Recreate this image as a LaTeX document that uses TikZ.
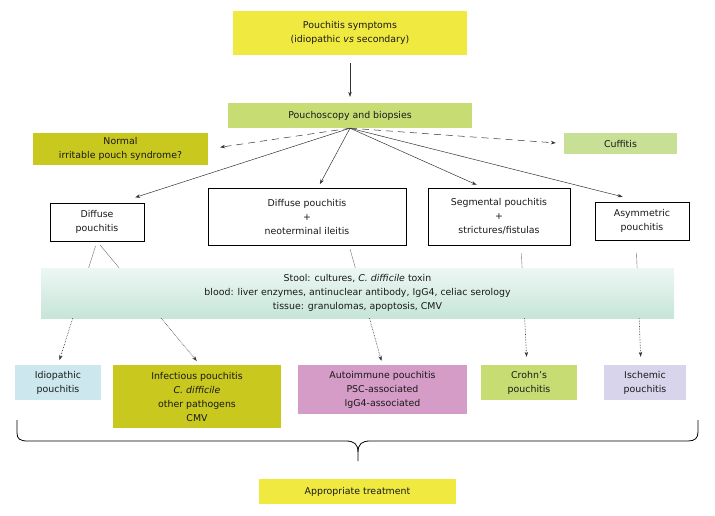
\documentclass[tikz,border=0pt]{standalone}
\usepackage{fontspec}
\setmainfont{DejaVu Sans}
\usetikzlibrary{arrows,arrows.meta}
\usetikzlibrary{calc}
\definecolor{pfeil}{RGB}{50,50,50}
\definecolor{symptomyellow}{RGB}{240,234,64}
\definecolor{scopygreen}{RGB}{200,220,116}
\definecolor{olive}{RGB}{200,200,30}
\definecolor{cuffgreen}{RGB}{200,224,150}
\definecolor{idioblue}{RGB}{204,232,238}
\definecolor{autopink}{RGB}{214,156,200}
\definecolor{ischlilac}{RGB}{216,212,236}
\definecolor{bandtop}{RGB}{237,247,244}
\definecolor{bandbottom}{RGB}{198,229,216}
\colorlet{pfeil-lighter}{pfeil!70}

\begin{document}
\begin{tikzpicture}[x=1pt, y=-1pt,
    box/.style={inner sep=0pt, align=center, font=\fontsize{9.4}{14}\selectfont, text=black!90},
    framed/.style={box, draw=black, line width=0.7pt, fill=white},
    fan/.style={pfeil, line width=0.5pt, -{Stealth[length=5pt, width=3.5pt]}},
    link/.style={pfeil-lighter, line width=0.4pt},
    dotlink/.style={pfeil, line width=0.6pt, densely dotted, -{Stealth[length=5pt, width=3.5pt]}}]

    \useasboundingbox (0,0) rectangle (715,515);

    % first level
    \node[box, fill=symptomyellow, minimum width=234pt, minimum height=44pt] (symptoms) at (350,33) {Pouchitis symptoms\\(idiopathic \textit{vs} secondary)};
    \node[box, fill=scopygreen, minimum width=244pt, minimum height=25pt] (scopy) at (350,115.5) {Pouchoscopy and biopsies};
    \node[box, fill=olive, minimum width=175pt, minimum height=32pt] (normal) at (120.5,149) {Normal\\irritable pouch syndrome?};
    \node[box, fill=cuffgreen, minimum width=113pt, minimum height=21pt] (cuff) at (620.5,143.5) {Cuffitis};

    % endoscopic findings
    \node[framed, minimum width=94pt, minimum height=38pt] (diffuse) at (97,222) {Diffuse\\pouchitis};
    \node[framed, minimum width=198pt, minimum height=57pt] (neo) at (307,216.5) {Diffuse pouchitis\\+\\neoterminal ileitis};
    \node[framed, minimum width=142pt, minimum height=57pt] (segm) at (499,216.5) {Segmental pouchitis\\+\\strictures/fistulas};
    \node[framed, minimum width=94pt, minimum height=38pt] (asym) at (642,221) {Asymmetric\\pouchitis};

    \node[box, top color=bandtop, bottom color=bandbottom, minimum width=633pt, minimum height=50pt] (tests) at (357.5,293) {Stool: cultures, \textit{C. difficile} toxin\\blood: liver enzymes, antinuclear antibody, IgG4, celiac serology\\tissue: granulomas, apoptosis, CMV};

    % diagnoses
    \node[box, fill=idioblue, minimum width=86pt, minimum height=35pt] (idio) at (58,382.5) {Idiopathic\\pouchitis};
    \node[box, fill=olive, minimum width=168pt, minimum height=63pt] (infect) at (197,396.5) {Infectious pouchitis\\\textit{C. difficile}\\other pathogens\\CMV};
    \node[box, fill=autopink, minimum width=169pt, minimum height=49pt] (auto) at (382.5,389.5) {Autoimmune pouchitis\\PSC-associated\\IgG4-associated};
    \node[box, fill=scopygreen, minimum width=96pt, minimum height=35pt] (crohn) at (529,382.5) {Crohn’s\\pouchitis};
    \node[box, fill=ischlilac, minimum width=82pt, minimum height=35pt] (isch) at (645,382.5) {Ischemic\\pouchitis};

    \node[box, fill=symptomyellow, minimum width=197pt, minimum height=25pt] (treat) at (357.5,491.5) {Appropriate treatment};

    \draw[fan, shorten <=8pt, shorten >=6pt] (symptoms) -- (scopy);

    \draw[fan, shorten >=17pt] (scopy.south) -- ([xshift=22pt]diffuse.north);
    \draw[fan, shorten >=4pt] (scopy.south) -- ([xshift=11pt]neo.north);
    \draw[fan, shorten >=7pt] (scopy.south) -- ([xshift=-16pt]segm.north);
    \draw[fan, shorten >=20pt] (scopy.south) -- (asym.north);
    \draw[fan, dash pattern=on 7pt off 5pt, shorten >=12pt] (scopy.south) -- (normal.east);
    \draw[fan, dash pattern=on 7pt off 5pt, shorten >=8pt] (scopy.south) -- (cuff.west);

    \coordinate (neo-out) at ([xshift=42pt]neo.south);
    \coordinate (segm-out) at ([xshift=22pt]segm.south);
    \coordinate (asym-out) at ([xshift=-6pt]asym.south);
    \coordinate (infect-in) at ([xshift=3pt]infect.north);
    \coordinate (crohn-in) at ([xshift=-2pt]crohn.north);
    \coordinate (isch-in) at ([xshift=-4pt]isch.north);

    \foreach \from/\to/\gapin/\gapout in {diffuse.south/idio.north/5/5, diffuse.south/infect-in/5/5, neo-out/auto.north/4/4, segm-out/crohn-in/8/8, asym-out/isch-in/12/8} {
        \draw[link, shorten <=\gapin pt] (\from) -- (intersection cs: first line={(\from)--(\to)}, second line={(tests.north west)--(tests.north east)});
        \draw[dotlink, shorten >=\gapout pt] (intersection cs: first line={(\from)--(\to)}, second line={(tests.south west)--(tests.south east)}) -- (\to);
    }

    % brace
    \draw[line width=0.8pt] (17,420) -- (17,433) .. controls (17,439) and (20,441) .. (28,441) -- (346,441) .. controls (354,441) and (358,444) .. (358,452) -- (358,461);
    \draw[line width=0.8pt] (358,452) .. controls (358,444) and (362,441) .. (370,441) -- (688,441) .. controls (695,441) and (698,438) .. (698,432) -- (698,420);

\end{tikzpicture}
\end{document}
